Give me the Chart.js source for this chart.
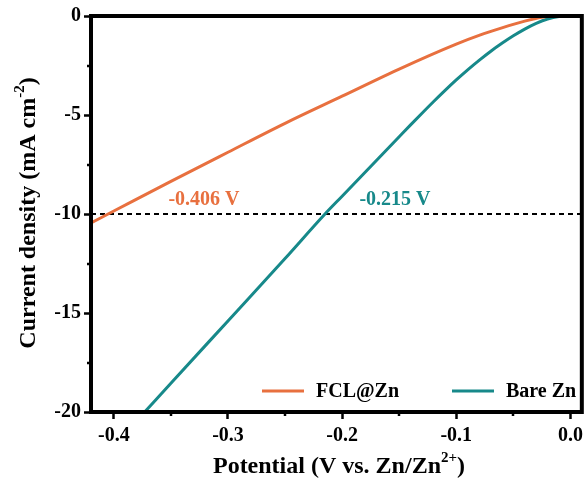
<!DOCTYPE html>
<html>
<head>
<meta charset="utf-8">
<script src="https://cdn.jsdelivr.net/npm/chart.js@4"></script>
<style>
html,body{margin:0;padding:0;background:#fff;}
canvas{display:block;}
</style>
</head>
<body>
<canvas id="c" width="588" height="485"></canvas>
<script>
// ---- data ----
const fclX = [-0.42, -0.40, -0.35, -0.30, -0.25, -0.20, -0.15, -0.10, -0.08, -0.06, -0.04, -0.025, -0.015, 0.0, 0.01];
const fclY = [-10.45, -9.85, -8.35, -6.88, -5.42, -4.05, -2.68, -1.42, -0.98, -0.6, -0.26, -0.06, 0.0, 0.0, 0.0];
const bareX = [-0.373, -0.35, -0.30, -0.25, -0.215, -0.20, -0.15, -0.14, -0.13, -0.12, -0.11, -0.10, -0.09, -0.08, -0.07, -0.06, -0.05, -0.04, -0.03, -0.02, -0.01, 0.0, 0.01];
const bareY = [-20.0, -18.55, -15.4, -12.25, -10.0, -9.1, -6.1, -5.5, -4.91, -4.33, -3.77, -3.23, -2.72, -2.24, -1.79, -1.38, -1.0, -0.66, -0.37, -0.15, -0.03, 0.0, 0.0];
const refX = [-0.42, 0.01];
const refY = [-10, -10];
const xTickValues = [-0.4, -0.3, -0.2, -0.1, 0.0];
const xTickLabels = ['-0.4', '-0.3', '-0.2', '-0.1', '0.0'];
const xMinor = [-0.35, -0.25, -0.15, -0.05];
const yTickValues = [-20, -15, -10, -5, 0];
const yTickLabels = ['-20', '-15', '-10', '-5', '0'];
const yMinor = [-17.5, -12.5, -7.5, -2.5];
const seriesNames = ['FCL@Zn', 'Bare Zn'];
const onsetLabels = ['-0.406 V', '-0.215 V'];

const ORANGE = '#E8703F';
const TEAL = '#17898A';
const FONT = '"Liberation Serif", "Times New Roman", serif';

const pts = (xs, ys) => xs.map((x, i) => ({x: x, y: ys[i]}));

const framePlugin = {
  id: 'frame',
  afterDraw(chart) {
    const ctx = chart.ctx, a = chart.chartArea;
    const xs = chart.scales.x, ys = chart.scales.y;
    ctx.save();
    // minor ticks
    ctx.strokeStyle = '#000'; ctx.lineWidth = 2.5;
    xMinor.forEach(v => {
      const p = Math.round(xs.getPixelForValue(v));
      ctx.beginPath(); ctx.moveTo(p, a.bottom); ctx.lineTo(p, a.bottom + 4); ctx.stroke();
    });
    yMinor.forEach(v => {
      const p = Math.round(ys.getPixelForValue(v));
      ctx.beginPath(); ctx.moveTo(a.left, p); ctx.lineTo(a.left - 4, p); ctx.stroke();
    });
    // frame
    ctx.lineWidth = 4;
    ctx.strokeRect(a.left, a.top, a.right - a.left, a.bottom - a.top);

    // onset labels
    ctx.font = 'bold 20px ' + FONT;
    ctx.textAlign = 'center'; ctx.textBaseline = 'middle';
    ctx.fillStyle = ORANGE;
    ctx.fillText(onsetLabels[0], 204, 200);
    ctx.fillStyle = TEAL;
    ctx.fillText(onsetLabels[1], 395, 200);

    // legend
    const ly = 391;
    const items = [
      {name: seriesNames[0], color: ORANGE, x0: 262},
      {name: seriesNames[1], color: TEAL, x0: 452}
    ];
    ctx.font = 'bold 20px ' + FONT;
    ctx.textAlign = 'left';
    items.forEach(it => {
      ctx.strokeStyle = it.color; ctx.lineWidth = 3;
      ctx.beginPath(); ctx.moveTo(it.x0, ly); ctx.lineTo(it.x0 + 42, ly); ctx.stroke();
      ctx.fillStyle = '#000';
      ctx.fillText(it.name, it.x0 + 54, ly + 1);
    });

    // axis titles with superscripts
    function drawSup(parts, cx, cy) {
      let w = 0;
      parts.forEach(p => { ctx.font = p.sup ? 'bold 15px ' + FONT : 'bold 24px ' + FONT; w += ctx.measureText(p.t).width; });
      let x = cx - w / 2;
      parts.forEach(p => {
        ctx.font = p.sup ? 'bold 15px ' + FONT : 'bold 24px ' + FONT;
        ctx.fillText(p.t, x, p.sup ? cy - 9 : cy);
        x += ctx.measureText(p.t).width;
      });
    }
    ctx.fillStyle = '#000';
    ctx.textAlign = 'left'; ctx.textBaseline = 'middle';
    drawSup([{t: 'Potential (V vs. Zn/Zn'}, {t: '2+', sup: true}, {t: ')'}], 339, 467);
    ctx.save();
    ctx.translate(29, 213);
    ctx.rotate(-Math.PI / 2);
    drawSup([{t: 'Current density (mA cm'}, {t: '-2', sup: true}, {t: ')'}], 0, 0);
    ctx.restore();
    ctx.restore();
  }
};

new Chart(document.getElementById('c'), {
  type: 'line',
  data: {
    datasets: [
      {label: seriesNames[0], data: pts(fclX, fclY), borderColor: ORANGE, borderWidth: 3, pointRadius: 0, cubicInterpolationMode: 'monotone', fill: false},
      {label: seriesNames[1], data: pts(bareX, bareY), borderColor: TEAL, borderWidth: 3, pointRadius: 0, cubicInterpolationMode: 'monotone', fill: false},
      {label: 'ref', data: pts(refX, refY), borderColor: '#000', borderWidth: 2, borderDash: [5, 4], pointRadius: 0, fill: false}
    ]
  },
  options: {
    responsive: false,
    devicePixelRatio: 1,
    animation: false,
    layout: {padding: {top: 16, right: 4, left: 0, bottom: 0}},
    plugins: {legend: {display: false}, tooltip: {enabled: false}},
    scales: {
      x: {
        type: 'linear', min: -0.42, max: 0.01,
        afterBuildTicks: s => { s.ticks = xTickValues.map(v => ({value: v})); },
        afterFit: s => { s.height = 73; },
        ticks: {
          color: '#000', padding: 5,
          font: {family: FONT, size: 20, weight: 'bold'},
          callback: (v, i) => xTickLabels[i]
        },
        grid: {drawOnChartArea: false, drawTicks: true, tickLength: 7, tickColor: '#000', tickWidth: 2.5},
        border: {display: true, color: '#000', width: 4}
      },
      y: {
        type: 'linear', min: -20, max: 0,
        afterBuildTicks: s => { s.ticks = yTickValues.map(v => ({value: v})); },
        afterFit: s => { s.width = 91; },
        ticks: {
          color: '#000', padding: 3,
          font: {family: FONT, size: 20, weight: 'bold'},
          callback: (v, i) => yTickLabels[i]
        },
        grid: {drawOnChartArea: false, drawTicks: true, tickLength: 7, tickColor: '#000', tickWidth: 2.5},
        border: {display: true, color: '#000', width: 4}
      }
    }
  },
  plugins: [framePlugin]
});
</script>
</body>
</html>
